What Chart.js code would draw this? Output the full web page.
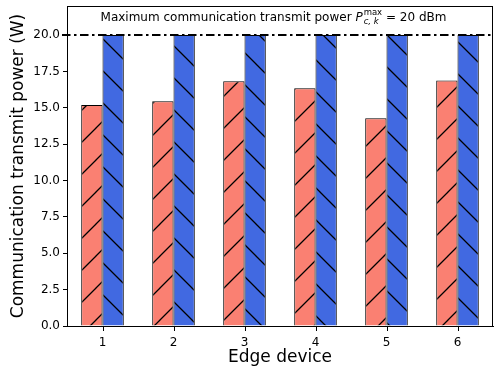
<!DOCTYPE html>
<html>
<head>
<meta charset="utf-8">
<script src="https://cdn.jsdelivr.net/npm/chart.js@4.4.0/dist/chart.umd.min.js"></script>
<style>
  html, body { margin: 0; padding: 0; background: #fff; }
  #wrap { width: 494px; height: 366px; }
</style>
</head>
<body>
<div id="wrap"><canvas id="powerChart" width="494" height="366"></canvas></div>
<script>
// data
const devices = ['1', '2', '3', '4', '5', '6'];
const actualPower = [15.2, 15.45, 16.82, 16.35, 14.28, 16.88];
const maxPower = [20, 20, 20, 20, 20, 20];
const limitValue = 20;
const yTicks = [0, 2.5, 5, 7.5, 10, 12.5, 15, 17.5, 20];

const FONT = "'DejaVu Sans', sans-serif";

// matplotlib-like sparse hatch pattern
function hatch(color, dir) {
  const s = 32;
  const c = document.createElement('canvas');
  c.width = s; c.height = s;
  const g = c.getContext('2d');
  g.fillStyle = color;
  g.fillRect(0, 0, s, s);
  g.strokeStyle = '#000';
  g.lineWidth = 1.3;
  g.beginPath();
  if (dir === '/') {
    for (let k = -1; k <= 1; k++) { g.moveTo(k * s - 1, s + 1); g.lineTo(k * s + s + 1, -1); }
  } else {
    for (let k = -1; k <= 1; k++) { g.moveTo(k * s - 1, -1); g.lineTo(k * s + s + 1, s + 1); }
  }
  g.stroke();
  return g.createPattern(c, 'repeat');
}

const extras = {
  id: 'extras',
  afterDraw(chart) {
    const ctx = chart.ctx;
    const a = chart.chartArea;
    const xs = chart.scales.x;
    const y = chart.scales.y;
    ctx.save();
    // x tick marks at category centres
    ctx.fillStyle = '#000';
    for (let i = 0; i < devices.length; i++) {
      const px = Math.round(xs.getPixelForTick(i));
      ctx.fillRect(px, Math.round(a.bottom), 1, 5);
    }
    // dash-dot limit line
    const yy = Math.round(y.getPixelForValue(limitValue));
    ctx.strokeStyle = '#000';
    ctx.lineWidth = 2;
    ctx.setLineDash([8.5, 3.5, 2.5, 3.5]);
    ctx.beginPath();
    ctx.moveTo(a.left - 5, yy);
    ctx.lineTo(a.right, yy);
    ctx.stroke();
    ctx.setLineDash([]);
    // frame
    ctx.lineWidth = 1;
    ctx.strokeRect(a.left + 0.5, a.top + 0.5, a.right - a.left - 1, a.bottom - a.top);
    // annotation text
    ctx.fillStyle = '#000';
    ctx.textBaseline = 'alphabetic';
    ctx.textAlign = 'left';
    const base = 21;
    const p1 = 'Maximum communication transmit power ';
    const p3 = ' = 20 dBm';
    ctx.font = '12px ' + FONT;
    const w1 = ctx.measureText(p1).width;
    const w3 = ctx.measureText(p3).width;
    ctx.font = 'italic 12px ' + FONT;
    const wP = ctx.measureText('P').width;
    ctx.font = 'italic 8.5px ' + FONT;
    const wSub = ctx.measureText('c, k').width;
    ctx.font = '8.5px ' + FONT;
    const wSup = ctx.measureText('max').width;
    const wS = Math.max(wSub, wSup);
    const total = w1 + wP + 1 + wS + w3;
    let x = 273.5 - total / 2;
    ctx.font = '12px ' + FONT;
    ctx.fillText(p1, x, base);
    x += w1;
    ctx.font = 'italic 12px ' + FONT;
    ctx.fillText('P', x, base);
    x += wP + 1;
    ctx.font = '8.5px ' + FONT;
    ctx.fillText('max', x, base - 6);
    ctx.font = 'italic 8.5px ' + FONT;
    ctx.fillText('c, k', x, base + 3);
    x += wS;
    ctx.font = '12px ' + FONT;
    ctx.fillText(p3, x, base);
    ctx.restore();
  }
};

new Chart(document.getElementById('powerChart'), {
  type: 'bar',
  data: {
    labels: devices,
    datasets: [
      {
        label: 'Actual',
        data: actualPower,
        backgroundColor: hatch('#FA8072', '/'),
        borderColor: '#000',
        borderWidth: 1,
        categoryPercentage: 0.6,
        barPercentage: 1.0
      },
      {
        label: 'Max',
        data: maxPower,
        backgroundColor: hatch('#4169E1', '\\'),
        borderColor: '#000',
        borderWidth: 1,
        categoryPercentage: 0.6,
        barPercentage: 1.0
      }
    ]
  },
  options: {
    responsive: false,
    animation: false,
    devicePixelRatio: 1,
    layout: { padding: { top: 6, right: 1, left: 0, bottom: 0 } },
    plugins: {
      legend: { display: false },
      tooltip: { enabled: false }
    },
    scales: {
      x: {
        grid: { display: false },
        border: { display: true, color: '#000' },
        ticks: { color: '#000', font: { family: FONT, size: 12 }, padding: 2 },
        title: { display: true, text: 'Edge device', color: '#000', font: { family: FONT, size: 17 }, padding: { top: 0, bottom: -2 } },
        afterFit: s => { s.height = 40; s.paddingLeft = 0; s.paddingRight = 0; }
      },
      y: {
        min: 0,
        max: 22,
        afterBuildTicks: s => { s.ticks = yTicks.map(v => ({ value: v })); },
        grid: { drawOnChartArea: false, drawTicks: true, tickLength: 4, color: '#000' },
        border: { display: true, color: '#000' },
        ticks: { color: '#000', font: { family: FONT, size: 12 }, padding: 3, callback: v => v.toFixed(1) },
        title: { display: true, text: 'Communication transmit power (W)', color: '#000', font: { family: FONT, size: 17 }, padding: { top: 8, bottom: 0 } },
        afterFit: s => { s.width = 67; s.paddingTop = 0; s.paddingBottom = 0; }
      }
    }
  },
  plugins: [extras]
});
</script>
</body>
</html>
